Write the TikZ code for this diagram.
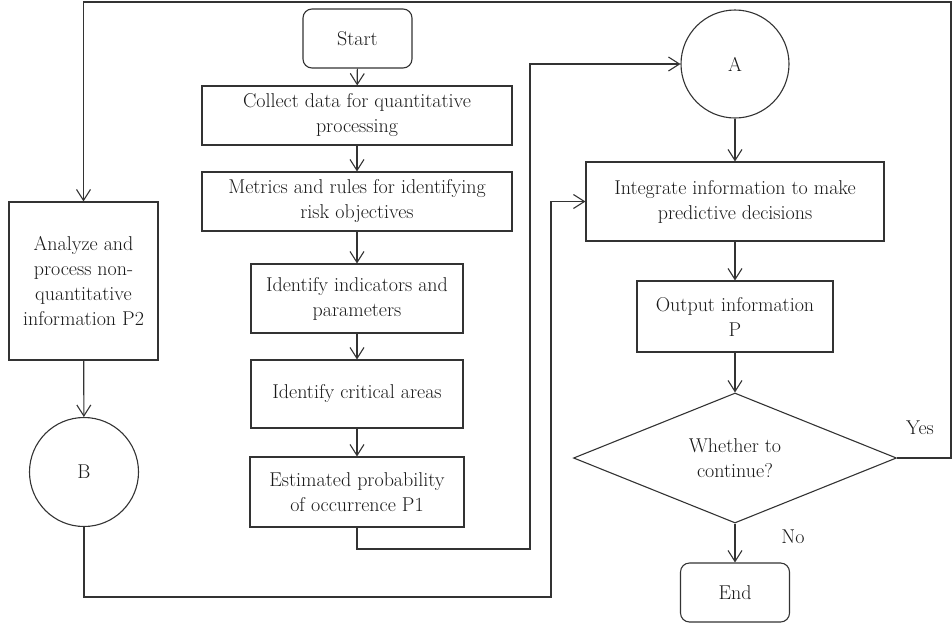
\documentclass[tikz,border=0pt]{standalone}
\usetikzlibrary{arrows.meta,shapes.geometric}
\begin{document}
\begin{tikzpicture}[x=1pt,y=-1pt,
  every node/.style={font=\fontsize{20}{25}\selectfont, text=black!90},
  line/.style={draw=black!80, line width=1.1pt},
  arr/.style={line, -{Straight Barb[length=11pt,width=14pt,line width=1.1pt]}},
  box/.style={line, rectangle, align=center, inner sep=0pt},
  term/.style={box, rounded corners=9pt},
  conn/.style={line, circle, inner sep=0pt, minimum size=109pt},
  decide/.style={line, diamond, aspect=2.48, inner sep=0pt, minimum width=323pt, minimum height=130pt, align=center}
]
\useasboundingbox (0,0) rectangle (952,627);
\node[term, minimum width=109pt, minimum height=59pt] (start) at (357.5,38.5) {Start};
\node[box, minimum width=310pt, minimum height=59pt] (collect) at (357,115.5) {Collect data for quantitative\\processing};
\node[box, minimum width=310pt, minimum height=59pt] (metrics) at (357,201.5) {Metrics and rules for identifying\\risk objectives};
\node[box, minimum width=212pt, minimum height=69pt] (indic) at (357,298.5) {Identify indicators and\\parameters};
\node[box, minimum width=212pt, minimum height=68pt] (crit) at (357,394) {Identify critical areas};
\node[box, minimum width=214pt, minimum height=70pt] (est) at (357,492) {Estimated probability\\of occurrence P1};
\node[box, minimum width=149pt, minimum height=158pt] (left) at (83.5,281) {Analyze and\\process non-\\quantitative\\information P2};
\node[conn] (B) at (84,472) {B};
\node[conn, minimum size=108pt] (A) at (735,64) {A};
\node[box, minimum width=298pt, minimum height=79pt] (integ) at (735,201.5) {Integrate information to make\\predictive decisions};
\node[box, minimum width=196pt, minimum height=71pt] (output) at (735,316.5) {Output information\\P};
\node[decide] (dec) at (735,458) {Whether to\\continue?};
\node[term, minimum width=109pt, minimum height=59pt] (end) at (735,592.5) {End};
\node (yes) at (920,428) {Yes};
\node (no) at (793,537) {No};

\coordinate (e1) at (357,549);
\coordinate (e2) at (530,549);
\coordinate (e3) at (530,64);
\coordinate (b1) at (84,597);
\coordinate (b2) at (551,597);
\coordinate (b3) at (551,201.5);
\coordinate (y1) at (951,458);
\coordinate (y2) at (951,2);
\coordinate (y3) at (83.5,2);

\draw[arr] (start) -- (collect);
\draw[arr] (collect) -- (metrics);
\draw[arr] (metrics) -- (indic);
\draw[arr] (indic) -- (crit);
\draw[arr] (crit) -- (est);
\draw[arr] (est.south) -- (e1) -- (e2) -- (e3) -- (A.west);
\draw[arr] (left) -- (B);
\draw[arr] (B.south) -- (b1) -- (b2) -- (b3) -- (integ.west);
\draw[arr] (A) -- (integ);
\draw[arr] (integ) -- (output);
\draw[arr] (output) -- (dec);
\draw[arr] (dec) -- (end);
\draw[arr] (dec.east) -- (y1) -- (y2) -- (y3) -- (left.north);
\end{tikzpicture}
\end{document}
